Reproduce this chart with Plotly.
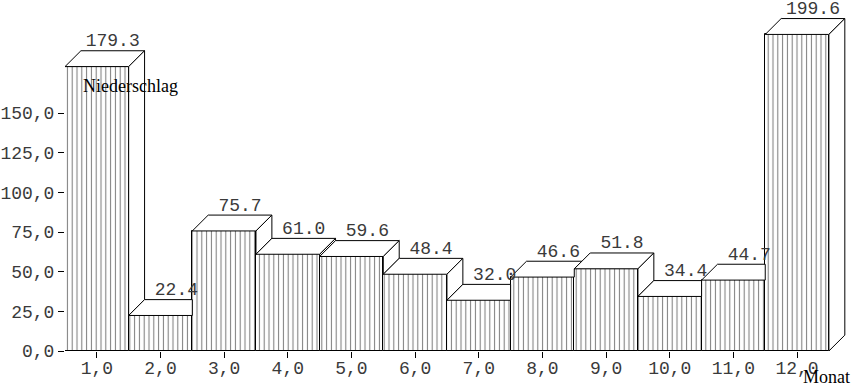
import plotly.graph_objects as go

# ---- data ----
months = [1, 2, 3, 4, 5, 6, 7, 8, 9, 10, 11, 12]
niederschlag = [179.3, 22.4, 75.7, 61.0, 59.6, 48.4, 32.0, 46.6, 51.8, 34.4, 44.7, 199.6]
x_tick_labels = ["1,0", "2,0", "3,0", "4,0", "5,0", "6,0", "7,0", "8,0", "9,0", "10,0", "11,0", "12,0"]
y_tick_values = [0, 25, 50, 75, 100, 125, 150]
y_tick_labels = ["0,0", "25,0", "50,0", "75,0", "100,0", "125,0", "150,0"]
value_labels = [f"{v:.1f}" for v in niederschlag]

# ---- 3D depth (in axis units) ----
DX = 0.25
DY = 10.0
SLOPE = DY / DX

MONO = "Liberation Mono, Courier New, monospace"
SERIF = "Liberation Serif, Times New Roman, serif"
TXT = "#3a3a3a"

fig = go.Figure()

# front faces: hatched bars
fig.add_trace(go.Bar(
    x=months, y=niederschlag, width=1.0,
    marker=dict(color="white",
                line=dict(color="black", width=1),
                pattern=dict(shape="|", fgcolor="black", bgcolor="white",
                             size=4.8, solidity=0.22)),
    showlegend=False, hoverinfo="skip",
))

def poly_trace(pts):
    xs = [p[0] for p in pts] + [pts[0][0]]
    ys = [p[1] for p in pts] + [pts[0][1]]
    return go.Scatter(x=xs, y=ys, mode="lines", fill="toself", fillcolor="white",
                      line=dict(color="black", width=1), showlegend=False,
                      hoverinfo="skip", cliponaxis=False)

n = len(months)
for i in range(n):
    x = months[i]
    h = niederschlag[i]
    hn = niederschlag[i + 1] if i + 1 < n else 0.0
    xl, xr = x - 0.5, x + 0.5
    # top face (clipped by next bar where it is taller)
    if hn <= h:
        top = [(xl, h), (xl + DX, h + DY), (xr + DX, h + DY), (xr, h)]
    elif hn >= h + DY:
        top = [(xl, h), (xl + DX, h + DY), (xr, h + DY), (xr, h)]
    else:
        xc = xr + (h + DY - hn) / SLOPE
        top = [(xl, h), (xl + DX, h + DY), (xc, h + DY), (xr, hn), (xr, h)]
    fig.add_trace(poly_trace(top))
    # visible part of the right side face
    if h > hn:
        side = [(xr, hn), (xr + DX, hn + DY), (xr + DX, h + DY), (xr, h)]
        fig.add_trace(poly_trace(side))

# value labels above the top faces
fig.add_trace(go.Scatter(
    x=[m + DX for m in months], y=[v + DY for v in niederschlag],
    mode="text", text=value_labels, textposition="top center",
    textfont=dict(family=MONO, size=18, color=TXT),
    showlegend=False, hoverinfo="skip", cliponaxis=False,
))

fig.update_layout(
    width=854, height=391,
    margin=dict(l=65, r=6, t=10, b=40),
    paper_bgcolor="white", plot_bgcolor="white",
    bargap=0, showlegend=False, hovermode=False,
    xaxis=dict(range=[0.5, 12.8], tickvals=months, ticktext=x_tick_labels,
               ticks="outside", ticklen=6, tickcolor="black", showgrid=False,
               zeroline=False, showline=False, automargin=False,
               ticklabelstandoff=-6,
               tickfont=dict(family=MONO, size=18, color=TXT)),
    yaxis=dict(range=[0, 215], tickvals=y_tick_values, ticktext=y_tick_labels,
               ticks="outside", ticklen=6, tickcolor="black", showgrid=False,
               zeroline=False, showline=False, automargin=False,
               tickfont=dict(family=MONO, size=18, color=TXT)),
    annotations=[
        dict(text="Niederschlag", xref="paper", yref="paper", x=0.021, y=0.777,
             xanchor="left", yanchor="middle", showarrow=False,
             font=dict(family=SERIF, size=18, color="black")),
        dict(text="Monat", xref="paper", yref="paper", x=1.005, y=-0.075,
             xanchor="right", yanchor="middle", showarrow=False,
             font=dict(family=SERIF, size=18, color="black")),
    ],
)

fig.write_html("out.html", config={"displayModeBar": False},
               post_script="document.body.style.margin='0';")
